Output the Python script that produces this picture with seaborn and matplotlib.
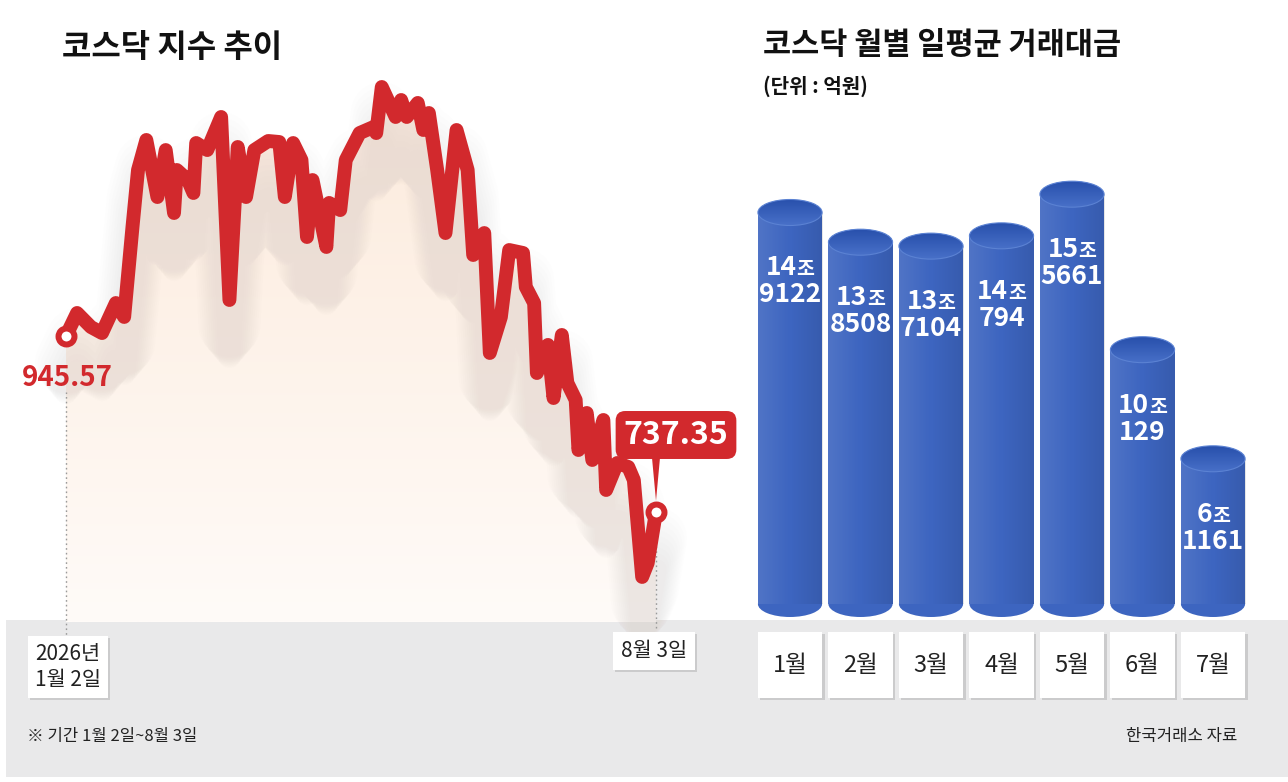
import numpy as np
import pandas as pd
import matplotlib
matplotlib.use("Agg")
import matplotlib.pyplot as plt
import matplotlib.dates as mdates
import matplotlib.transforms as mtransforms
import matplotlib.patheffects as pe
from matplotlib.patches import Rectangle, Ellipse
from matplotlib.offsetbox import TextArea, HPacker, VPacker, AnnotationBbox
import seaborn as sns

# ---------------- data ----------------
line_dates = [
    "2026-01-02", "2026-01-06", "2026-01-11", "2026-01-15", "2026-01-20", "2026-01-23",
    "2026-01-26", "2026-01-28", "2026-01-31", "2026-02-04", "2026-02-07", "2026-02-10",
    "2026-02-11", "2026-02-15", "2026-02-17", "2026-02-18", "2026-02-22", "2026-02-27",
    "2026-03-02", "2026-03-05", "2026-03-08", "2026-03-11", "2026-03-16", "2026-03-20",
    "2026-03-22", "2026-03-25", "2026-03-28", "2026-03-30", "2026-04-01", "2026-04-06",
    "2026-04-07", "2026-04-11", "2026-04-13", "2026-04-18", "2026-04-23", "2026-04-24",
    "2026-04-26", "2026-05-01", "2026-05-03", "2026-05-05", "2026-05-09", "2026-05-11",
    "2026-05-13", "2026-05-16", "2026-05-19", "2026-05-23", "2026-05-27", "2026-05-29",
    "2026-06-02", "2026-06-04", "2026-06-08", "2026-06-11", "2026-06-16", "2026-06-17",
    "2026-06-20", "2026-06-21", "2026-06-25", "2026-06-27", "2026-06-30", "2026-07-02",
    "2026-07-05", "2026-07-06", "2026-07-09", "2026-07-11", "2026-07-15", "2026-07-16",
    "2026-07-20", "2026-07-24", "2026-07-26", "2026-07-29", "2026-07-31", "2026-08-03",
]
kosdaq = [
    945.57, 972.8, 956.2, 949.1, 984.6, 968.1, 1074.5, 1142.0, 1177.5, 1110.0,
    1165.6, 1091.1, 1142.0, 1130.1, 1114.8, 1173.9, 1165.6, 1204.7, 988.2, 1169.2,
    1110.0, 1165.6, 1176.3, 1175.1, 1110.0, 1173.9, 1153.8, 1062.7, 1130.1, 1050.9,
    1103.0, 1094.6, 1153.8, 1185.7, 1192.8, 1185.7, 1240.2, 1204.7, 1224.8, 1204.7,
    1221.3, 1189.3, 1209.4, 1142.0, 1067.4, 1189.3, 1142.0, 1041.4, 1067.4, 925.5,
    968.1, 1047.3, 1043.8, 1003.6, 984.6, 901.8, 935.0, 872.2, 946.8, 890.0,
    869.9, 810.7, 854.5, 798.9, 846.2, 763.4, 795.3, 790.6, 775.2, 660.5,
    677.0, 737.35,
]
start_label = "945.57"
end_label = "737.35"
start_date_label = "2026년\n1월 2일"
end_date_label = "8월 3일"

months = ["1월", "2월", "3월", "4월", "5월", "6월", "7월"]
amounts = [149122, 138508, 137104, 140794, 155661, 100129, 61161]  # 억원

title_left = "코스닥 지수 추이"
title_right = "코스닥 월별 일평균 거래대금"
unit_note = "(단위 : 억원)"
foot_left = "※ 기간 1월 2일~8월 3일"
foot_right = "한국거래소 자료"

# ---------------- style ----------------
RED = "#d2292d"
BLUE = "#3d65c0"
sns.set_style("white")
plt.rcParams["font.family"] = ["Noto Sans CJK KR", "DejaVu Sans"]

W, H = 1288, 782
fig = plt.figure(figsize=(W / 100, H / 100), dpi=100)
fig.patch.set_facecolor("white")


def fbox(l, t, r, b):
    return [l / W, 1 - b / H, (r - l) / W, (b - t) / H]


# gray bottom band
fig.add_artist(Rectangle((6 / W, 1 - 777 / H), (W - 6) / W, (777 - 620) / H,
                         transform=fig.transFigure, fc="#e9e9ea", ec="none", zorder=-5))

# ---------------- left: KOSDAQ line ----------------
ax1 = fig.add_axes(fbox(66, 70, 656, 622))
ax1.set_facecolor("none")
dates = pd.to_datetime(line_dates)
df = pd.DataFrame({"date": dates, "kosdaq": kosdaq})
ymin, ymax = 607.2, 1260.3

# gradient fill under the line
fill = ax1.fill_between(dates, kosdaq, ymin, facecolor="none", edgecolor="none")
xn = mdates.date2num(dates)
g = np.linspace(0, 1, 256)[:, None]
top_c = np.array([252, 234, 219]) / 255
bot_c = np.array([255, 251, 248]) / 255
img = (bot_c + (top_c - bot_c) * g).reshape(256, 1, 3)
im = ax1.imshow(img, extent=[xn[0], xn[-1], ymin, ymax], origin="lower",
                aspect="auto", zorder=1)
im.set_clip_path(fill.get_paths()[0], transform=ax1.transData)

# soft, diffuse shadow of the line
for k in range(10):
    dy = -26 - 3.5 * k
    lw = 62 - 4.5 * k
    tr = ax1.transData + mtransforms.ScaledTranslation(0, dy / 100, fig.dpi_scale_trans)
    ax1.plot(dates, kosdaq, color="#9a8c86", lw=lw * 0.72, alpha=0.012, transform=tr,
             solid_capstyle="round", solid_joinstyle="round", zorder=2, clip_on=False)

sns.lineplot(data=df, x="date", y="kosdaq", ax=ax1, color=RED, linewidth=10,
             zorder=4, legend=False)
main = ax1.lines[-1]
main.set_solid_capstyle("round")
main.set_solid_joinstyle("round")
main.set_clip_on(False)

ax1.plot([dates[0], dates[-1]], [kosdaq[0], kosdaq[-1]], ls="none", marker="o",
         ms=11.5, mfc="white", mec=RED, mew=4.3, zorder=6, clip_on=False)

# dotted guides
ax1.axvline(dates[0], ymin=-0.03, ymax=(622 - 392) / 552, color="#9a9a9a",
            ls=(0, (1.2, 2.2)), lw=1, zorder=3, clip_on=False)
ax1.axvline(dates[-1], ymin=-0.01, ymax=(622 - 525) / 552, color="#9a9a9a",
            ls=(0, (1.2, 2.2)), lw=1, zorder=3, clip_on=False)

ax1.annotate(start_label, xy=(dates[0], kosdaq[0]), xytext=(1, -42),
             textcoords="offset pixels", ha="center", va="center", color=RED,
             fontsize=20, fontweight="bold", zorder=7, annotation_clip=False)

ax1.annotate("", xy=(dates[-1], kosdaq[-1]), xytext=(0, 56), textcoords="offset pixels",
             arrowprops=dict(arrowstyle="wedge,tail_width=0.6,shrink_factor=0.5",
                             fc=RED, ec="none", shrinkA=0, shrinkB=8),
             zorder=7, annotation_clip=False)
ax1.annotate(end_label, xy=(dates[-1], kosdaq[-1]), xytext=(20, 77),
             textcoords="offset pixels", ha="center", va="center", color="white",
             fontsize=23, fontweight="bold", zorder=8, annotation_clip=False,
             bbox=dict(boxstyle="round,pad=0.25,rounding_size=0.3", fc=RED, ec="none"))

shadow_fx = [pe.withSimplePatchShadow(offset=(1.5, -1.5), shadow_rgbFace="#888888", alpha=0.3)]
t1 = ax1.annotate(start_date_label, xy=(dates[0], ymin), xytext=(2, -45),
                  textcoords="offset pixels", ha="center", va="center", fontsize=15,
                  color="#222222", linespacing=1.2, zorder=8, annotation_clip=False,
                  bbox=dict(boxstyle="square,pad=0.35", fc="white", ec="none"))
t1.get_bbox_patch().set_path_effects(shadow_fx)
t2 = ax1.annotate(end_date_label, xy=(dates[-1], ymin), xytext=(-2, -29),
                  textcoords="offset pixels", ha="center", va="center", fontsize=15,
                  color="#222222", zorder=8, annotation_clip=False,
                  bbox=dict(boxstyle="square,pad=0.4", fc="white", ec="none"))
t2.get_bbox_patch().set_path_effects(shadow_fx)

ax1.set_xlim(dates[0], dates[-1])
ax1.set_ylim(ymin, ymax)
ax1.axis("off")

# ---------------- right: monthly trading value ----------------
ax2 = fig.add_axes(fbox(754.75, 150, 1248.25, 617))
ax2.set_facecolor("none")
bdf = pd.DataFrame({"month": months, "amount": amounts})
sns.barplot(data=bdf, x="month", y="amount", ax=ax2, color=BLUE, width=0.91,
            saturation=1, zorder=3)
YTOP = 166800
cap = 26 / 467 * YTOP

bars = list(ax2.patches)
for p in bars:
    x, w, h = p.get_x(), p.get_width(), p.get_height()
    p.set_y(cap / 2)
    p.set_height(h - cap)
    p.set_edgecolor("none")
    # bottom rounded end
    ax2.add_patch(Ellipse((x + w / 2, cap / 2), w, cap, fc=BLUE, ec="none", zorder=3))
    # body shading
    sh = np.zeros((1, 64, 4))
    s = np.linspace(0, 1, 64)
    sh[0, :, :3] = np.where(s[:, None] < 0.5, 1.0, 0.0)
    sh[0, :, 3] = np.where(s < 0.5, 0.10 * (1 - 2 * s), 0.10 * (2 * s - 1))
    bim = ax2.imshow(sh, extent=[x, x + w, cap / 2, h - cap / 2], aspect="auto", zorder=4)
    bim.set_clip_path(p)
    # top ellipse with gradient
    e = Ellipse((x + w / 2, h - cap / 2), w, cap, fc="none", ec="#5b82d3", lw=0.8, zorder=6)
    ax2.add_patch(e)
    gv = np.linspace(0, 1, 64)[:, None]
    c_top = np.array([40, 80, 172]) / 255
    c_bot = np.array([72, 112, 200]) / 255
    timg = (c_bot + (c_top - c_bot) * gv).reshape(64, 1, 3)
    tim = ax2.imshow(timg, extent=[x, x + w, h - cap, h], origin="lower",
                     aspect="auto", zorder=5)
    tim.set_clip_path(e)

# value labels
for i, v in enumerate(amounts):
    tp_big = dict(color="white", fontsize=19, fontweight="bold")
    tp_small = dict(color="white", fontsize=14, fontweight="bold")
    l1 = HPacker(children=[TextArea(f"{v // 10000}", textprops=tp_big),
                           TextArea("조", textprops=tp_small)],
                 align="baseline", pad=0, sep=0)
    l2 = TextArea(f"{v % 10000}", textprops=tp_big)
    box = VPacker(children=[l1, l2], align="center", pad=0, sep=0)
    ab = AnnotationBbox(box, (i, v), xybox=(0, -55 * 0.72), xycoords="data",
                        boxcoords="offset points", box_alignment=(0.5, 1),
                        frameon=False, zorder=10)
    ax2.add_artist(ab)

# month boxes
trans = mtransforms.blended_transform_factory(ax2.transData, ax2.transAxes)
for i, m in enumerate(months):
    r = Rectangle((i - 0.46, -(698 - 617) / 467), 0.92, (698 - 632) / 467,
                  transform=trans, fc="white", ec="none", clip_on=False, zorder=5)
    r.set_path_effects([pe.withSimplePatchShadow(offset=(1.5, -1.5),
                                                 shadow_rgbFace="#888888", alpha=0.3),
                        pe.Normal()])
    ax2.add_patch(r)
    ax2.text(i, -(665 - 617) / 467, m, transform=trans, ha="center", va="center",
             fontsize=17, color="#222222", zorder=6, clip_on=False)

ax2.set_xlim(-0.5, 6.5)
ax2.set_ylim(0, YTOP)
ax2.axis("off")

# ---------------- texts ----------------
fig.text(62 / W, 1 - 48 / H, title_left, fontsize=23, fontweight="bold",
         ha="left", va="center", color="#111111")
fig.text(763 / W, 1 - 45 / H, title_right, fontsize=22, fontweight="bold",
         ha="left", va="center", color="#111111")
fig.text(763 / W, 1 - 86 / H, unit_note, fontsize=14.5, fontweight="bold",
         ha="left", va="center", color="#111111")
fig.text(27 / W, 1 - 737 / H, foot_left, fontsize=12, ha="left", va="center",
         color="#222222")
fig.text(1237 / W, 1 - 737 / H, foot_right, fontsize=12, ha="right", va="center",
         color="#222222")

fig.savefig("out.png", dpi=100, facecolor="white")
